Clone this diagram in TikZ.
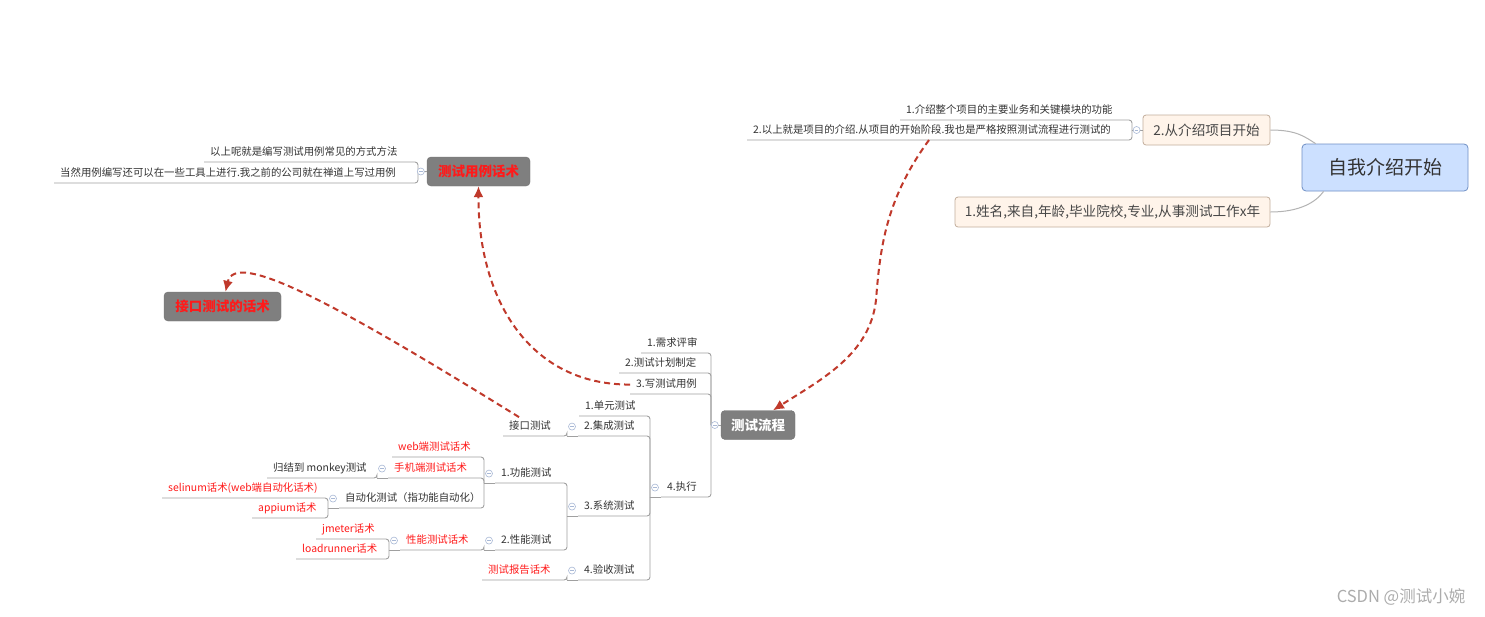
\documentclass[tikz,border=0pt]{standalone}
\usepackage{fontspec}
\setmainfont{Noto Sans CJK SC}
\usetikzlibrary{arrows.meta, calc}

\definecolor{trait}{HTML}{A0A0A0}
\definecolor{texte}{HTML}{333333}
\definecolor{rouge}{HTML}{FF1A1A}
\definecolor{fleche}{HTML}{C0392B}
\definecolor{bleuracine}{HTML}{CCE0FF}
\definecolor{bordracine}{HTML}{6F8FC4}
\definecolor{peche}{HTML}{FFF4EA}
\definecolor{bordpeche}{HTML}{C2AE9C}
\definecolor{grisbox}{HTML}{7F7F7F}
\definecolor{bleurepli}{HTML}{A9B9D6}

\tikzset{
  sujet/.style={anchor=south west, inner xsep=6pt, inner ysep=4pt, text height=8.5pt, text depth=2pt,
    text=texte, font=\fontsize{10.4pt}{12pt}\selectfont},
  rsujet/.style={sujet, text=rouge},
  branche/.style={draw=trait, line width=0.9pt, rounded corners=3pt},
  lien/.style={draw=trait!80, line width=1pt},
  racine/.style={draw=bordracine, fill=bleuracine, rounded corners=4pt, line width=0.8pt,
    minimum width=166pt, minimum height=47pt, text=texte, font=\fontsize{19pt}{22pt}\selectfont},
  peche box/.style={draw=bordpeche, fill=peche, rounded corners=3pt, line width=0.8pt,
    minimum height=30pt, inner xsep=8pt, text=texte!90, font=\fontsize{13.6pt}{16pt}\selectfont},
  gris box/.style={fill=grisbox, draw=grisbox!90!black, rounded corners=4pt, minimum height=29pt,
    inner xsep=9pt, font=\bfseries\fontsize{13.5pt}{16pt}\selectfont},
  repli/.style={circle, draw=bleurepli, fill=white, line width=0.6pt, inner sep=0pt, minimum size=7pt,
    path picture={\draw[draw=bleurepli, line width=0.6pt] ([xshift=1.8pt]path picture bounding box.west)
      -- ([xshift=-1.8pt]path picture bounding box.east);}},
  renvoi/.style={draw=fleche, line width=2pt, dash pattern=on 6pt off 4pt, -{Latex[length=11pt,width=10pt]}},
}

\begin{document}
\begin{tikzpicture}[x=1pt, y=-1pt]
    \fill[white] (0,0) rectangle (1485,616);
    \useasboundingbox (0,0) rectangle (1485,616);

    % Racine et deux premieres branches
    \node[racine] (racine) at (1385,167.5) {自我介绍开始};
    \node[peche box, minimum width=127pt] (projet) at (1206.5,130) {2.从介绍项目开始};
    \node[peche box, minimum width=315pt] (perso) at (1112.5,212) {1.姓名,来自,年龄,毕业院校,专业,从事测试工作x年};
    \draw[lien] (projet.east) .. controls (1297,130) and (1305,137) .. ([xshift=14pt]racine.north west);
    \draw[lien] (perso.east) .. controls (1300,212) and (1316,202) .. ([xshift=22pt]racine.south west);

    % Boites grises
    \node[gris box, minimum width=103pt, text=rouge] (cas) at (478.5,171.5) {测试用例话术};
    \node[gris box, minimum width=117pt, text=rouge] (api) at (222.5,306.5) {接口测试的话术};
    \node[gris box, minimum width=74pt, text=white] (flux) at (758,425) {测试流程};
    \coordinate (projetj) at (1132,130);
    \coordinate (casj) at (418,172);
    \coordinate (fluxj) at (711,425);

    % Sujets
    \node[sujet] (intro1) at (900,120) {1.介绍整个项目的主要业务和关键模块的功能};
    \node[sujet] (intro2) at (747,140) {2.以上就是项目的介绍.从项目的开始阶段.我也是严格按照测试流程进行测试的};
    \node[sujet] (cas1) at (204,162) {以上呢就是编写测试用例常见的方式方法};
    \node[sujet] (cas2) at (54,183) {当然用例编写还可以在一些工具上进行.我之前的公司就在禅道上写过用例};
    \node[sujet] (f1) at (641,353) {1.需求评审};
    \node[sujet] (f2) at (619,373) {2.测试计划制定};
    \node[sujet] (f3) at (630,394) {3.写测试用例};
    \node[sujet] (f4) at (661,497) {4.执行};
    \node[sujet] (u1) at (579,416) {1.单元测试};
    \node[sujet] (u2) at (578,436) {2.集成测试};
    \node[sujet] (u3) at (578,516) {3.系统测试};
    \node[sujet] (u4) at (578,580) {4.验收测试};
    \node[sujet] (jk) at (503,436) {接口测试};
    \node[rsujet] (rapport) at (482,580) {测试报告话术};
    \node[sujet] (s1) at (495,483) {1.功能测试};
    \node[sujet] (s2) at (495,550) {2.性能测试};
    \node[rsujet] (web) at (392,457) {web端测试话术};
    \node[rsujet] (mobile) at (388,478) {手机端测试话术};
    \node[sujet] (auto) at (339,508) {自动化测试（指功能自动化）};
    \node[sujet] (monkey) at (267,478) {归结到 monkey测试};
    \node[rsujet] (selinum) at (162,498) {selinum话术(web端自动化话术)};
    \node[rsujet] (appium) at (252,518) {appium话术};
    \node[rsujet] (perf) at (400,550) {性能测试话术};
    \node[rsujet] (jmeter) at (316,539) {jmeter话术};
    \node[rsujet] (loadrunner) at (296,559) {loadrunner话术};

    % Jonctions des sujets parents
    \foreach \p in {f4,u2,u3,u4,s1,s2,mobile,auto,perf}
        \coordinate (\p j) at ([xshift=-11pt]\p.south west);

    % Branches
    \foreach \c/\p in {intro1/projetj, intro2/projetj, cas1/casj, cas2/casj,
        f1/fluxj, f2/fluxj, f3/fluxj, f4/fluxj, u1/f4j, u2/f4j, u3/f4j, u4/f4j,
        jk/u2j, rapport/u4j, s1/u3j, s2/u3j, web/s1j, mobile/s1j, auto/s1j,
        monkey/mobilej, selinum/autoj, appium/autoj, perf/s2j, jmeter/perfj, loadrunner/perfj}
        \draw[branche] (\c.south west) -- (\c.south west -| \p) -- (\p);
    \foreach \p in {f4,u2,u3,u4,s1,s2,mobile,auto,perf}
        \draw[branche] (\p j) -- (\p.south west);
    \draw[branche] (projetj) -- (projet.west);
    \draw[branche] (casj) -- (cas.west);
    \draw[branche] (fluxj) -- (flux.west);

    % Boutons de repli
    \foreach \p in {projet,cas,flux,f4,u2,u3,u4,s1,s2,mobile,auto,perf}
        \node[repli] at ([xshift=-6pt]\p.west) {};

    % Renvois en pointilles
    \draw[renvoi] ([xshift=-3pt]intro2.south) .. controls (885,200) and (880,250) .. (876,300)
        .. controls (870,355) and (820,380) .. ([xshift=15pt]flux.north);
    \draw[renvoi] (f3.west) .. controls (530,385) and (478,300) .. (cas.south);
    \draw[renvoi] ([xshift=-11pt]jk.north) .. controls (330,300) and (235,250) .. ([xshift=3pt]api.north);

    \node[text=gray!65, font=\fontsize{16.5pt}{19pt}\selectfont] (filigrane) at (1401,597) {CSDN @测试小婉};
\end{tikzpicture}
\end{document}
